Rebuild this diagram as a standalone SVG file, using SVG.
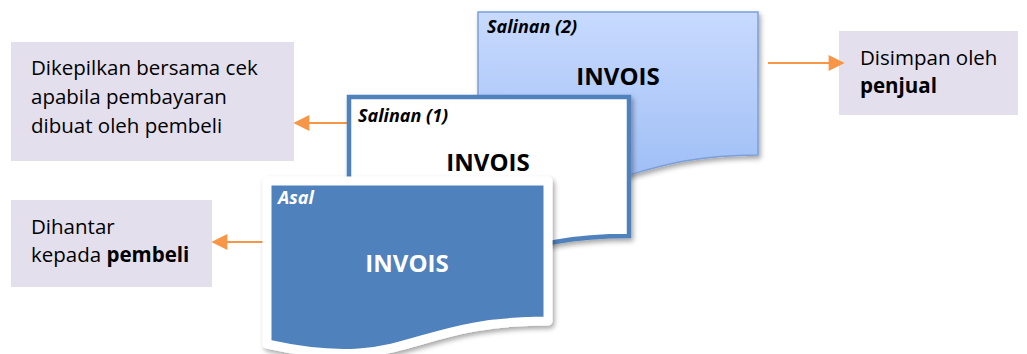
<svg xmlns="http://www.w3.org/2000/svg" width="1027" height="354" viewBox="0 0 1027 354">
<defs>
<linearGradient id="g2" x1="0" y1="0" x2="0" y2="1">
<stop offset="0" stop-color="#c8dafe"/>
<stop offset="1" stop-color="#9dbdf5"/>
</linearGradient>
<filter id="sh" x="-10%" y="-10%" width="125%" height="130%">
<feDropShadow dx="2" dy="3" stdDeviation="2.5" flood-color="#000" flood-opacity="0.35"/>
</filter>
<marker id="ah" viewBox="0 0 10 10" refX="9" refY="5" markerWidth="8.5" markerHeight="8" markerUnits="strokeWidth" orient="auto">
<path d="M0,0 L10,5 L0,10 Z" fill="#f79646"/>
</marker>
<style>
.box{fill:#e4dfec}
.t{font-family:"Open Sans","Liberation Sans",sans-serif;font-size:20.5px;fill:#000}
.b{font-weight:bold}
.lbl{font-family:"Open Sans","Liberation Sans",sans-serif;font-size:18px;font-weight:bold;font-style:italic}
.inv{font-family:"Open Sans","Liberation Sans",sans-serif;font-size:24px;font-weight:bold;text-anchor:middle}
.con{stroke:#f79646;stroke-width:2;fill:none;marker-end:url(#ah)}
</style>
</defs>

<g id="box-pembeli-cek">
<rect class="box" x="11" y="42" width="283" height="119"/>
<text class="t" x="31" y="75">Dikepilkan bersama cek</text>
<text class="t" x="31" y="104">apabila pembayaran</text>
<text class="t" x="31" y="133">dibuat oleh pembeli</text>
</g>

<g id="box-pembeli">
<rect class="box" x="11" y="200" width="201" height="87"/>
<text class="t" x="31" y="234">Dihantar</text>
<text class="t" x="31" y="262">kepada <tspan class="b">pembeli</tspan></text>
</g>

<g id="box-penjual">
<rect class="box" x="839" y="31" width="179" height="84"/>
<text class="t" x="860" y="65">Disimpan oleh</text>
<text class="t b" x="860" y="93">penjual</text>
</g>

<g id="connectors">
<line class="con" x1="768" y1="63" x2="843" y2="63"/>
<line class="con" x1="347" y1="123" x2="295" y2="123"/>
<line class="con" x1="263" y1="242" x2="213" y2="242"/>
</g>

<g id="salinan2">
<path d="M478,12 L758,12 L758,155 C618,155 618,209 478,178 Z" fill="url(#g2)" stroke="#7c9fd8" stroke-width="1.5" filter="url(#sh)"/>
<text class="lbl" x="487" y="33">Salinan (2)</text>
<text class="inv" x="618" y="85">INVOIS</text>
</g>

<g id="salinan1">
<path d="M349,97 L629,97 L629,236 C489,236 489,288 349,259 Z" fill="#ffffff" stroke="#4f81bd" stroke-width="4.5" filter="url(#sh)"/>
<text class="lbl" x="358" y="122">Salinan (1)</text>
<text class="inv" x="488" y="171">INVOIS</text>
</g>

<g id="asal">
<path d="M267,181 L548,181 L548,321 C407,321 407,375 267,344 Z" fill="#4f81bd" stroke="#ffffff" stroke-width="9" stroke-linejoin="round" filter="url(#sh)"/>
<text class="lbl" x="278" y="204" fill="#ffffff">Asal</text>
<text class="inv" x="407" y="272" fill="#ffffff">INVOIS</text>
</g>
</svg>
